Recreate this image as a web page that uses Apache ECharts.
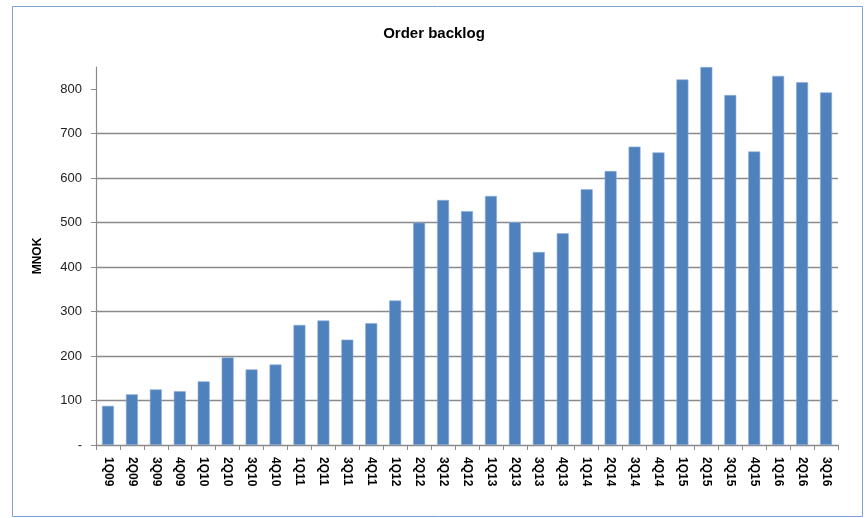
<!DOCTYPE html>
<html>
<head>
<meta charset="utf-8">
<script src="https://cdn.jsdelivr.net/npm/echarts@6/dist/echarts.min.js"></script>
<style>
  html, body { margin: 0; padding: 0; background: #fff; }
  #chart { width: 868px; height: 518px; }
</style>
</head>
<body>
<div id="chart"></div>
<script>
const quarters = [
  '1Q09', '2Q09', '3Q09', '4Q09',
  '1Q10', '2Q10', '3Q10', '4Q10',
  '1Q11', '2Q11', '3Q11', '4Q11',
  '1Q12', '2Q12', '3Q12', '4Q12',
  '1Q13', '2Q13', '3Q13', '4Q13',
  '1Q14', '2Q14', '3Q14', '4Q14',
  '1Q15', '2Q15', '3Q15', '4Q15',
  '1Q16', '2Q16', '3Q16',
];
const backlog = [
  88, 114, 125, 121,
  143, 197, 170, 181,
  270, 280, 237, 274,
  325, 500, 551, 526,
  560, 501, 434, 476,
  575, 616, 671, 658,
  822, 850, 787, 660,
  830, 816, 793,
];
const yTicks = [0, 100, 200, 300, 400, 500, 600, 700, 800];
const yMax = 850;

const gridGray = '#8a8a8a';
const chart = echarts.init(document.getElementById('chart'));

chart.setOption({
  animation: false,
  textStyle: { fontFamily: 'Liberation Sans' },
  title: {
    text: 'Order backlog',
    left: 'center',
    top: 21,
    textStyle: { fontSize: 15, fontWeight: 'bold', color: '#000' },
  },
  graphic: [
    {
      type: 'rect',
      shape: { x: 12.5, y: 6.5, width: 850, height: 510 },
      style: { fill: 'none', stroke: '#7ea1d0', lineWidth: 1 },
      silent: true,
    },
  ],
  grid: { left: 96, right: 30, top: 67, bottom: 73 },
  xAxis: {
    type: 'category',
    data: quarters,
    axisLine: { lineStyle: { color: gridGray, width: 1.2 } },
    axisTick: { show: true, length: 5, lineStyle: { color: gridGray } },
    axisLabel: {
      rotate: -90,
      margin: 12,
      fontSize: 12,
      fontWeight: 'bold',
      color: '#000',
      interval: 0,
    },
  },
  yAxis: {
    type: 'value',
    min: 0,
    max: yMax,
    interval: 100,
    name: 'MNOK',
    nameLocation: 'middle',
    nameRotate: 90,
    nameGap: 52,
    nameTextStyle: { fontSize: 12, fontWeight: 'bold', color: '#000' },
    axisLine: { show: true, lineStyle: { color: gridGray, width: 1.2 } },
    axisTick: {
      show: true,
      length: 5,
      customValues: yTicks,
      lineStyle: { color: gridGray },
    },
    axisLabel: {
      customValues: yTicks,
      fontSize: 13,
      color: '#222',
      margin: 14,
      formatter: v => (v === 0 ? '-' : String(v)),
    },
    splitLine: {
      show: true,
      showMaxLine: false,
      lineStyle: { color: gridGray, width: 1.3 },
    },
  },
  series: [
    {
      name: 'Order backlog',
      type: 'bar',
      data: backlog,
      barCategoryGap: '50%',
      itemStyle: { color: '#4f81bd', borderColor: '#8eaedb', borderWidth: 0.6 },
    },
  ],
});
</script>
</body>
</html>
